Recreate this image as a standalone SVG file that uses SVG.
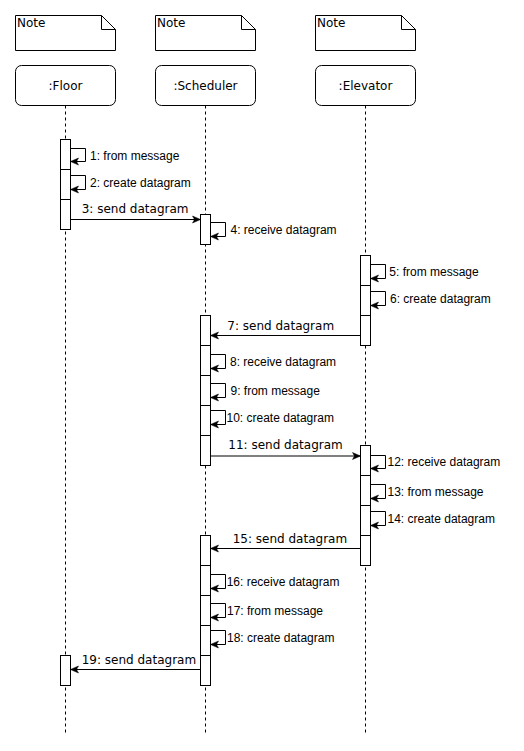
<svg xmlns="http://www.w3.org/2000/svg" width="524" height="751" viewBox="0 0 524 751">
<style>
.shape{fill:#fff;stroke:#000;stroke-width:1}
.life{fill:none;stroke:#000;stroke-width:1;stroke-dasharray:3 3}
.msg{fill:none;stroke:#000;stroke-width:1;marker-end:url(#arr)}
.t{font-family:"DejaVu Sans",Verdana,sans-serif;font-size:12px;fill:#000}
.c{text-anchor:middle}
.s{font-family:"Liberation Sans",Arial,Helvetica,sans-serif;font-size:12px;fill:#000}
</style>
<defs>
<marker id="arr" markerUnits="userSpaceOnUse" markerWidth="9" markerHeight="8" refX="8" refY="3.5" orient="auto" overflow="visible">
<path d="M0,0 L8,3.5 L0,7 L2,3.5 Z" fill="#000" stroke="#000" stroke-width="0.5"/>
</marker>
</defs>
<rect width="524" height="751" fill="#fff"/>

<g id="note-floor">
<path class="shape" d="M15.5,15.5 H101.5 L115.5,29.5 V50.5 H15.5 Z"/>
<path fill="none" stroke="#000" d="M101.5,15.5 V29.5 H115.5"/>
<text class="t" x="17" y="27">Note</text>
</g>
<g id="note-scheduler">
<path class="shape" d="M155.5,15.5 H241.5 L255.5,29.5 V50.5 H155.5 Z"/>
<path fill="none" stroke="#000" d="M241.5,15.5 V29.5 H255.5"/>
<text class="t" x="157" y="27">Note</text>
</g>
<g id="note-elevator">
<path class="shape" d="M315.5,15.5 H401.5 L415.5,29.5 V50.5 H315.5 Z"/>
<path fill="none" stroke="#000" d="M401.5,15.5 V29.5 H415.5"/>
<text class="t" x="317" y="27">Note</text>
</g>

<g id="floor">
<line class="life" x1="65.5" y1="105.5" x2="65.5" y2="734"/>
<rect class="shape" x="15.5" y="65.5" width="100" height="40" rx="6"/>
<text class="t c" x="65.5" y="90">:Floor</text>
<rect class="shape" x="60.5" y="139.5" width="10" height="30"/>
<rect class="shape" x="60.5" y="169.5" width="10" height="30"/>
<rect class="shape" x="60.5" y="199.5" width="10" height="30"/>
<rect class="shape" x="60.5" y="655.5" width="10" height="30"/>
</g>
<g id="scheduler">
<line class="life" x1="205.5" y1="105.5" x2="205.5" y2="734"/>
<rect class="shape" x="155.5" y="65.5" width="100" height="40" rx="6"/>
<text class="t c" x="205.5" y="90">:Scheduler</text>
<rect class="shape" x="200.5" y="214.5" width="10" height="30"/>
<rect class="shape" x="200.5" y="315.5" width="10" height="30"/>
<rect class="shape" x="200.5" y="345.5" width="10" height="30"/>
<rect class="shape" x="200.5" y="375.5" width="10" height="30"/>
<rect class="shape" x="200.5" y="405.5" width="10" height="30"/>
<rect class="shape" x="200.5" y="435.5" width="10" height="30"/>
<rect class="shape" x="200.5" y="535.5" width="10" height="30"/>
<rect class="shape" x="200.5" y="565.5" width="10" height="30"/>
<rect class="shape" x="200.5" y="595.5" width="10" height="30"/>
<rect class="shape" x="200.5" y="625.5" width="10" height="30"/>
<rect class="shape" x="200.5" y="655.5" width="10" height="30"/>
</g>
<g id="elevator">
<line class="life" x1="365.5" y1="105.5" x2="365.5" y2="734"/>
<rect class="shape" x="315.5" y="65.5" width="100" height="40" rx="6"/>
<text class="t c" x="365.5" y="90">:Elevator</text>
<rect class="shape" x="360.5" y="255.5" width="10" height="30"/>
<rect class="shape" x="360.5" y="285.5" width="10" height="30"/>
<rect class="shape" x="360.5" y="315.5" width="10" height="30"/>
<rect class="shape" x="360.5" y="445.5" width="10" height="30"/>
<rect class="shape" x="360.5" y="475.5" width="10" height="30"/>
<rect class="shape" x="360.5" y="505.5" width="10" height="30"/>
<rect class="shape" x="360.5" y="535.5" width="10" height="30"/>
</g>

<g id="connectors">
<path class="msg" d="M70.5,148.5 H85.5 V161.5 H70.5"/>
<text class="s" x="90" y="159.5">1: from message</text>
<path class="msg" d="M70.5,175.5 H85.5 V189.5 H70.5"/>
<text class="s" x="90" y="187">2: create datagram</text>
<path class="msg" d="M70.5,219.5 H200.5"/>
<text class="t" x="81.7" y="213">3: send datagram</text>
<path class="msg" d="M210.5,222.5 H225.5 V236.5 H210.5"/>
<text class="s" x="230.5" y="234">4: receive datagram</text>
<path class="msg" d="M370.5,264.5 H385.5 V278.5 H370.5"/>
<text class="s" x="389.3" y="276">5: from message</text>
<path class="msg" d="M370.5,291.5 H385.5 V305.5 H370.5"/>
<text class="s" x="390" y="303">6: create datagram</text>
<path class="msg" d="M360.5,335.5 H210.5"/>
<text class="t" x="227.3" y="330">7: send datagram</text>
<path class="msg" d="M210.5,354.5 H225.5 V368.5 H210.5"/>
<text class="s" x="230" y="366">8: receive datagram</text>
<path class="msg" d="M210.5,383.5 H225.5 V397.5 H210.5"/>
<text class="s" x="230.5" y="395">9: from message</text>
<path class="msg" d="M210.5,410.5 H225.5 V424.5 H210.5"/>
<text class="s" x="226.5" y="422">10: create datagram</text>
<path class="msg" d="M210.5,456 H360.5"/>
<text class="t" x="228.3" y="449.3">11: send datagram</text>
<path class="msg" d="M370.5,455.5 H385.5 V468.5 H370.5"/>
<text class="s" x="387.5" y="466">12: receive datagram</text>
<path class="msg" d="M370.5,484.5 H385.5 V498.5 H370.5"/>
<text class="s" x="387.5" y="496">13: from message</text>
<path class="msg" d="M370.5,511.5 H385.5 V525.5 H370.5"/>
<text class="s" x="387.5" y="523">14: create datagram</text>
<path class="msg" d="M360.5,548.5 H210.5"/>
<text class="t" x="232.7" y="542.7">15: send datagram</text>
<path class="msg" d="M210.5,574.5 H225.5 V588.5 H210.5"/>
<text class="s" x="226.7" y="586">16: receive datagram</text>
<path class="msg" d="M210.5,603.5 H225.5 V617.5 H210.5"/>
<text class="s" x="227" y="615">17: from message</text>
<path class="msg" d="M210.5,630.5 H225.5 V644.5 H210.5"/>
<text class="s" x="227" y="642">18: create datagram</text>
<path class="msg" d="M200.5,669.5 H70.5"/>
<text class="t" x="81.7" y="664.3">19: send datagram</text>
</g>
</svg>
